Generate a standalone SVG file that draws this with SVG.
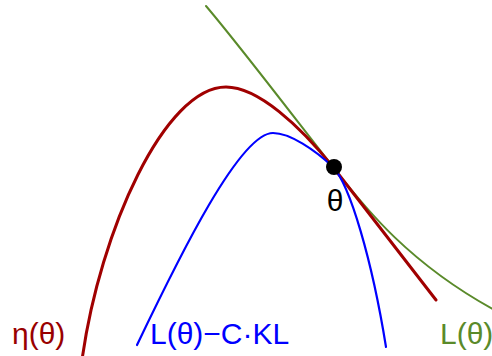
<svg xmlns="http://www.w3.org/2000/svg" width="492" height="356" viewBox="0 0 492 356">
<style>
.c{fill:none;stroke-linecap:round;stroke-linejoin:round}
.eta{stroke:#a00000;stroke-width:3}
.lkl{stroke:#0000ff;stroke-width:2.2}
.l{stroke:#5a8a2a;stroke-width:2}
text{font-family:"Liberation Sans",Arial,sans-serif;font-size:30px}
</style>
<rect width="492" height="356" fill="#ffffff"/>
<g id="connectors">
<path id="curve-L" class="c l" d="M206,6 C240,46 300,125 333,167 C365,208 410,265 500,313"/>
<path id="curve-eta" class="c eta" d="M82,360 C100,230 165,87 226,87 C258,87 300,126 333,167 L436,300"/>
<path id="curve-LKL" class="c lkl" d="M137,345 C180,255 240,133 273,133 C290,133 315,150 333,167 C350,185 372,260 386,347"/>
</g>
<g id="theta-point">
<circle cx="334" cy="167" r="8" fill="#000000"/>
<text x="335" y="211" text-anchor="middle" fill="#000000">θ</text>
</g>
<g id="label-eta"><text x="12" y="344" fill="#990000">η(θ)</text></g>
<g id="label-LKL"><text x="150" y="344" fill="#0000ff">L(θ)−C·KL</text></g>
<g id="label-L"><text x="440" y="344" fill="#5a8a2a">L(θ)</text></g>
</svg>
